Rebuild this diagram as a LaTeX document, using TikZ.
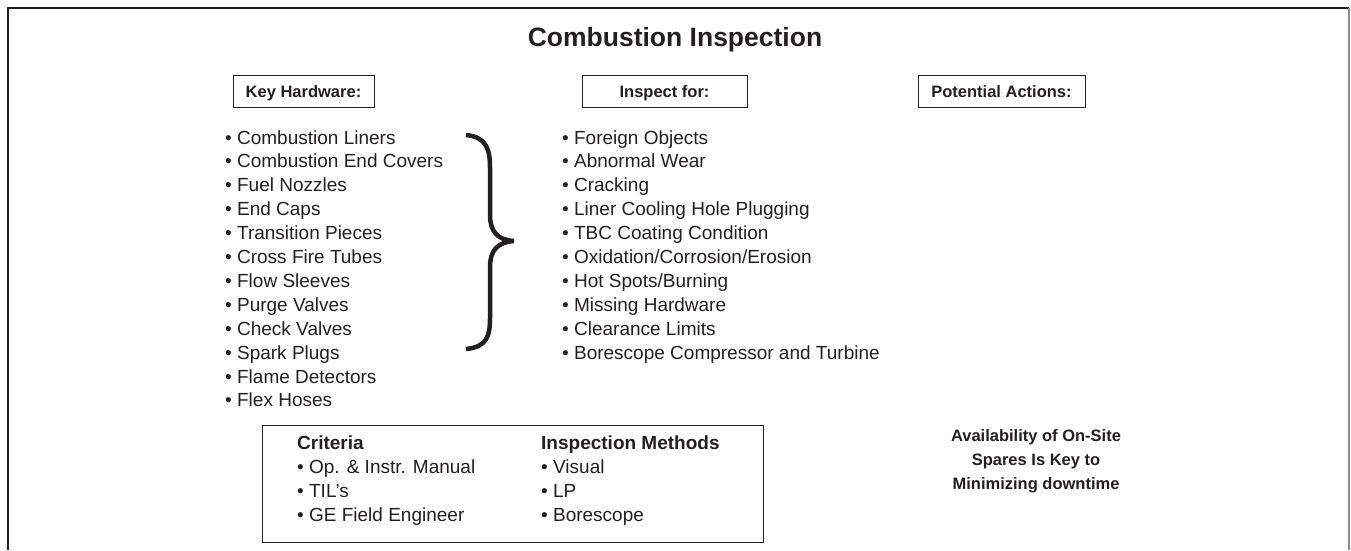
\documentclass[tikz,border=0pt]{standalone}
\usepackage{fontspec}
\setmainfont{Liberation Sans}
\definecolor{ink}{HTML}{231F20}
\begin{document}
\begin{tikzpicture}[x=1pt,y=-1pt,
  every node/.style={text=ink},
  hdr/.style={draw=ink,line width=0.8pt,minimum height=32pt,inner sep=0pt,text height=12pt,text depth=0pt,font=\bfseries\fontsize{16.5}{19}\selectfont},
  item/.style={anchor=base west,inner sep=0pt,font=\fontsize{19}{22}\selectfont},
  bitem/.style={anchor=base west,inner sep=0pt,font=\bfseries\fontsize{19}{22}\selectfont},
  note/.style={anchor=base,inner sep=0pt,font=\bfseries\fontsize{16.5}{19}\selectfont}]
\useasboundingbox (0,0) rectangle (1351,550);
% frame
\draw[ink,line width=2pt] (8,550) -- (8,8) -- (1349,8);
\draw[black!45,line width=1.5pt] (1349,8) -- (1349,550);
% title
\node[anchor=base,inner sep=0pt,font=\bfseries\fontsize{26.5}{30}\selectfont] (title) at (675,46) {Combustion Inspection};
% headers
\node[hdr,minimum width=141pt] (kh) at (303.5,91.5) {Key Hardware:};
\node[hdr,minimum width=165pt] (insp) at (664.5,91.5) {Inspect for:};
\node[hdr,minimum width=167pt] (pa) at (1001.5,91.5) {Potential Actions:};
% key hardware list
\foreach \t [count=\i] in {Combustion Liners,Combustion End Covers,Fuel Nozzles,End Caps,Transition Pieces,Cross Fire Tubes,Flow Sleeves,Purge Valves,Check Valves,Spark Plugs,Flame Detectors,Flex Hoses}
  \node[item] (kh\i) at (225,144+23.9*\i-23.9) {• \t};
% inspect list
\foreach \t [count=\i] in {Foreign Objects,Abnormal Wear,Cracking,Liner Cooling Hole Plugging,TBC Coating Condition,Oxidation/Corrosion/Erosion,Hot Spots/Burning,Missing Hardware,Clearance Limits,Borescope Compressor and Turbine}
  \node[item] (in\i) at (562,144+23.9*\i-23.9) {• \t};
% brace
\draw[ink,line width=4.5pt] (466,135) .. controls (487,137) and (490,150) .. (490,168) -- (490,215) .. controls (490,232) and (498,240) .. (514,241) .. controls (498,242) and (490,250) .. (490,267) -- (490,318) .. controls (490,336) and (487,347) .. (466,349);
% bottom box
\draw[ink,line width=0.8pt] (262,425) rectangle (763,542);
\node[bitem] (crit) at (297,449) {Criteria};
\node[item] (c1) at (297,473) {• Op. \& Instr. Manual};
\node[item] (c2) at (297,497) {• TIL’s};
\node[item] (c3) at (297,521) {• GE Field Engineer};
\node[bitem] (meth) at (541,449) {Inspection Methods};
\node[item] (m1) at (541,473) {• Visual};
\node[item] (m2) at (541,497) {• LP};
\node[item] (m3) at (541,521) {• Borescope};
% note
\node[note] (n1) at (1036,441) {Availability of On-Site};
\node[note] (n2) at (1036,465) {Spares Is Key to};
\node[note] (n3) at (1036,489) {Minimizing downtime};
\end{tikzpicture}
\end{document}
